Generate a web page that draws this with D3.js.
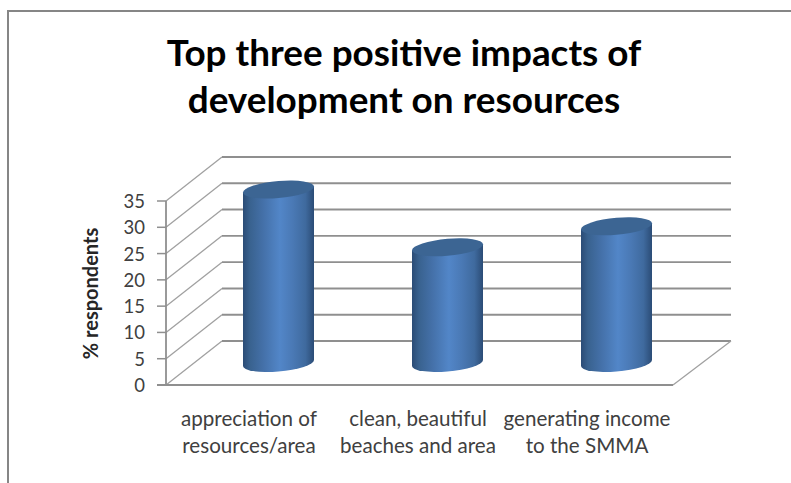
<!DOCTYPE html>
<html><head><meta charset="utf-8">
<script src="https://cdn.jsdelivr.net/npm/d3@7"></script>
<style>html,body{margin:0;padding:0;background:#fff}svg{display:block}text{font-family:Lato,"Open Sans",sans-serif}</style>
</head><body><svg id="c" width="791" height="483"></svg>
<script>
const titleLines=["Top three positive impacts of","development on resources"];
const categories=["appreciation of|resources/area","clean, beautiful|beaches and area","generating income|to the SMMA"];
const values=[33,22,26];
const yTicks=[0,5,10,15,20,25,30,35];
const yLabel="% respondents";
const svg=d3.select("#c");
const W=791,H=483;
const depthX=56,depthY=-44;
const y=d3.scaleLinear().domain([0,35]).range([385,201]);
const x=d3.scaleBand().domain(categories).range([166,673]);
const defs=svg.append("defs");
const g=defs.append("linearGradient").attr("id","cyl");
[[0,"#2b4c76"],[.1,"#39628f"],[.28,"#4470a8"],[.52,"#5286c8"],[.7,"#4a79b5"],[.88,"#3f6a9e"],[1,"#2b4c76"]]
 .forEach(([o,c])=>g.append("stop").attr("offset",o).attr("stop-color",c));
const f=defs.append("filter").attr("id","soft").attr("x","-5%").attr("y","-5%").attr("width","110%").attr("height","110%");
f.append("feGaussianBlur").attr("stdDeviation",0.4);
// frame
svg.append("path").attr("d",`M8,${H}V11H${W}`).attr("fill","none").attr("stroke","#868686").attr("stroke-width",2);
// title
svg.append("g").selectAll("text").data(titleLines).join("text")
 .attr("x",404).attr("y",(d,i)=>66+i*47).attr("text-anchor","middle")
 .attr("font-size",36.9).attr("font-weight",700).attr("fill","#000").text(d=>d);
// grid
const grid=svg.append("g").attr("fill","none").attr("filter","url(#soft)");
const [x0,x1]=x.range();
yTicks.forEach(t=>{
 grid.append("path").attr("d",`M${x0},${y(t)}L${x0+depthX},${y(t)+depthY}`).attr("stroke","#a0a0a0").attr("stroke-width",1.3);
 grid.append("path").attr("d",`M${x0+depthX},${y(t)+depthY}H${x1+depthX+2}`).attr("stroke","#8f8f8f").attr("stroke-width",1.9);
});
grid.append("path").attr("d",`M${x1+depthX+2},${y(0)+depthY}L${x1},${y(0)}`).attr("stroke","#a0a0a0").attr("stroke-width",1.3);
grid.append("path").attr("d",`M${x1},${y(0)}H${x0-9}`).attr("stroke","#8f8f8f").attr("stroke-width",1.9);
grid.append("path").attr("d",`M${x0},${y(0)}V${y(35)}`).attr("stroke","#8f8f8f").attr("stroke-width",1.8);
yTicks.forEach(t=>grid.append("path").attr("d",`M${x0-9},${y(t)}H${x0}`).attr("stroke","#8f8f8f").attr("stroke-width",1.5));
// y tick labels
svg.append("g").selectAll("text").data(yTicks).join("text")
 .attr("x",145).attr("y",d=>y(d)+7).attr("text-anchor","end")
 .attr("font-size",18.5).attr("fill","#404040").text(d=>d);
svg.append("text").attr("transform","translate(98,293.5) rotate(-90)").attr("text-anchor","middle")
 .attr("font-size",20).attr("font-weight",700).attr("fill","#262626").text(yLabel);
// cylinders
const rx=35.5,ry=8.5,skew=-4.8,offX=28,baseY=-22;
const bars=svg.append("g").selectAll("g").data(categories).join("g");
bars.each(function(d,i){
 const cx=x(d)+x.bandwidth()/2+offX;
 const g=d3.select(this);
 const by=y(0)+baseY, ty=by-(y(0)-y(values[i]));
 g.attr("transform",`translate(${cx},${by}) skewY(${skew})`);
 const h=ty-by;
 g.append("path").attr("d",`M${-rx},${h}V0A${rx},${ry} 0 0 0 ${rx},0V${h}Z`).attr("fill","url(#cyl)");
 g.append("ellipse").attr("cx",0).attr("cy",h).attr("rx",rx).attr("ry",ry).attr("fill","#3c6593");
});
// category labels
const lab=svg.append("g").selectAll("text").data(categories).join("text")
 .attr("text-anchor","middle").attr("font-size",20.6).attr("fill","#404040");
lab.each(function(d){
 const t=d3.select(this);
 d.split("|").forEach((s,i)=>t.append("tspan").attr("x",x(d)+x.bandwidth()/2-1.5).attr("y",426+i*27).text(s));
});
</script></body></html>
